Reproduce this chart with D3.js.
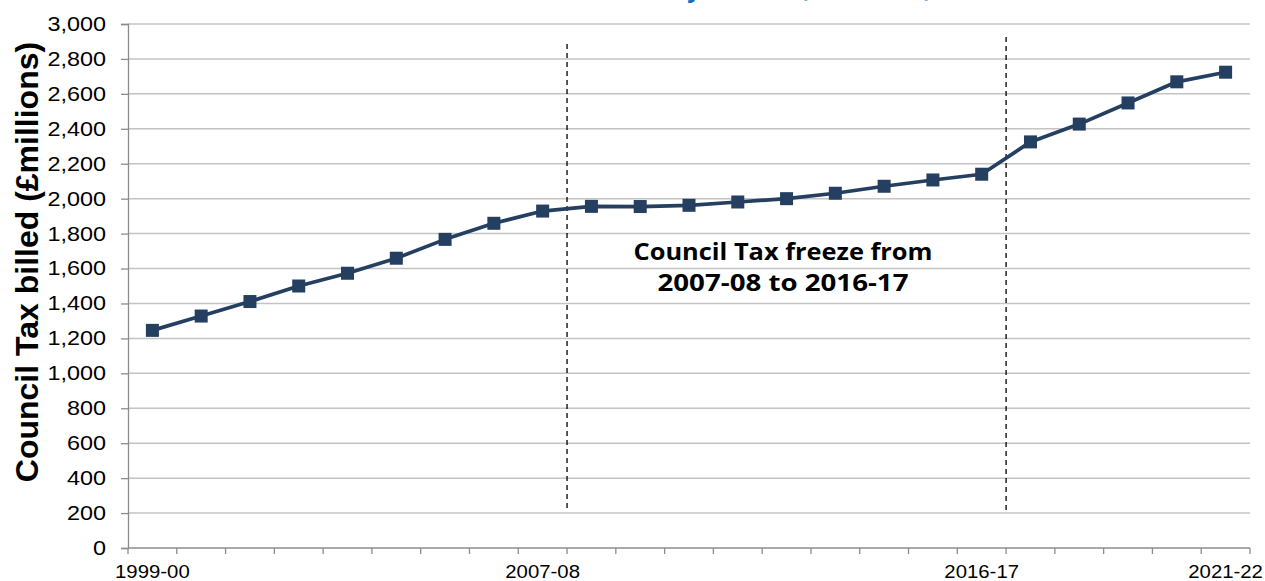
<!DOCTYPE html>
<html>
<head>
<meta charset="utf-8">
<script src="https://cdn.jsdelivr.net/npm/d3@7/dist/d3.min.js"></script>
<style>
  body { margin: 0; background: #fff; }
  svg { display: block; }
</style>
</head>
<body>
<div id="chart"></div>
<script>
/* -------------------------------------------------------------------------- */
// data
const years = ['1999-00', '2000-01', '2001-02', '2002-03', '2003-04', '2004-05',
  '2005-06', '2006-07', '2007-08', '2008-09', '2009-10', '2010-11', '2011-12',
  '2012-13', '2013-14', '2014-15', '2015-16', '2016-17', '2017-18', '2018-19',
  '2019-20', '2020-21', '2021-22'];
const billed = [1246, 1328, 1411, 1500, 1573, 1659, 1767, 1859, 1929, 1956,
  1955, 1962, 1981, 2000, 2031, 2071, 2107, 2140, 2325, 2427, 2548, 2669, 2724];
const shownLabels = ['1999-00', '2007-08', '2016-17', '2021-22'];
const yTicks = d3.range(0, 3001, 200);
const freezeStart = '2007-08';
const freezeEnd = '2016-17';
const noteLines = ['Council Tax freeze from', '2007-08 to 2016-17'];

/* -------------------------------------------------------------------------- */
const W = 1265, H = 581;
const margin = {top: 24, right: 15, bottom: 33, left: 128};
const navy = '#243f60';

const svg = d3.select('#chart').append('svg')
  .attr('width', W).attr('height', H);

const x = d3.scaleBand()
  .domain(years)
  .range([margin.left, W - margin.right]);

const y = d3.scaleLinear()
  .domain([0, 3000])
  .range([H - margin.bottom, margin.top]);

// stretch text horizontally, the reference looks a bit wider than the fonts we have
function widen(sel, k) {
  sel.each(function() {
    let w = this.getComputedTextLength();
    d3.select(this).attr('textLength', w * k).attr('lengthAdjust', 'spacingAndGlyphs');
  });
}

// title, mostly cut off at the top of the picture (as in the reference)
svg.append('text')
  .attr('x', 380).attr('y', -3)
  .attr('font-family', 'Open Sans, sans-serif')
  .attr('font-weight', 'bold')
  .attr('font-size', 24)
  .attr('fill', '#0070c0')
  .text('Council Tax billed annually in total (£ millions)');

// --------------------------------------------------
// gridlines
svg.append('g')
  .selectAll('line')
  .data(yTicks.filter(d => d > 0))
  .enter().append('line')
  .attr('x1', margin.left).attr('x2', W - margin.right)
  .attr('y1', d => y(d)).attr('y2', d => y(d))
  .attr('stroke', '#c4c4c4')
  .attr('stroke-width', 1.5);

// y axis
let gy = svg.append('g')
  .attr('transform', `translate(${margin.left},0)`)
  .call(d3.axisLeft(y).tickValues(yTicks).tickSize(7).tickPadding(15)
    .tickFormat(d3.format(',')));
gy.select('.domain').attr('stroke', '#8c8c8c').attr('stroke-width', 1.3);
gy.selectAll('.tick line').attr('stroke', '#8c8c8c').attr('stroke-width', 1.3);
gy.selectAll('.tick text')
  .attr('font-family', 'Liberation Sans, Arial, sans-serif')
  .attr('font-size', 20)
  .attr('fill', '#000')
  .call(widen, 1.17);

// x axis, ticks between categories
let xAxisY = y(0);
let gx = svg.append('g');
gx.append('line')
  .attr('x1', margin.left).attr('x2', W - margin.right)
  .attr('y1', xAxisY).attr('y2', xAxisY)
  .attr('stroke', '#8c8c8c').attr('stroke-width', 1.3);

let edges = years.map(d => x(d)).concat([x(years[years.length - 1]) + x.bandwidth()]);
gx.selectAll('line.tk')
  .data(edges)
  .enter().append('line')
  .attr('class', 'tk')
  .attr('x1', d => d).attr('x2', d => d)
  .attr('y1', xAxisY).attr('y2', xAxisY + 6)
  .attr('stroke', '#8c8c8c').attr('stroke-width', 1.3);

gx.selectAll('text')
  .data(shownLabels)
  .enter().append('text')
  .attr('x', d => x(d) + x.bandwidth() / 2)
  .attr('y', xAxisY + 30)
  .attr('text-anchor', 'middle')
  .attr('font-family', 'Liberation Sans, Arial, sans-serif')
  .attr('font-size', 18.5)
  .text(d => d)
  .call(widen, 1.1);

// y axis title
svg.append('text')
  .attr('transform', 'translate(38,262) rotate(-90)')
  .attr('text-anchor', 'middle')
  .attr('font-family', 'Liberation Sans, Arial, sans-serif')
  .attr('font-weight', 'bold')
  .attr('font-size', 32)
  .text('Council Tax billed (£millions)');

// --------------------------------------------------
// freeze period markers
let freezeLines = [
  {x: x(freezeStart) + x.bandwidth(), y1: 44, y2: 508},
  {x: x(freezeEnd) + x.bandwidth(), y1: 37, y2: 510}
];
svg.append('g')
  .selectAll('line')
  .data(freezeLines)
  .enter().append('line')
  .attr('x1', d => d.x).attr('x2', d => d.x)
  .attr('y1', d => d.y1).attr('y2', d => d.y2)
  .attr('stroke', '#000')
  .attr('stroke-width', 1.3)
  .attr('stroke-dasharray', '5,4');

let note = svg.append('g')
  .selectAll('text')
  .data(noteLines)
  .enter().append('text')
  .attr('x', 783)
  .attr('y', (d, i) => 260 + i * 31)
  .attr('text-anchor', 'middle')
  .attr('font-family', 'Open Sans, sans-serif')
  .attr('font-weight', 'bold')
  .attr('font-size', 23)
  .attr('fill', '#000')
  .text(d => d);
note.filter((d, i) => i == 0).attr('textLength', 299).attr('lengthAdjust', 'spacingAndGlyphs');
note.filter((d, i) => i == 1).attr('textLength', 251).attr('lengthAdjust', 'spacingAndGlyphs');

// --------------------------------------------------
// the series
let cx = d => x(d) + x.bandwidth() / 2;
let line = d3.line()
  .x((d, i) => cx(years[i]))
  .y(d => y(d));

svg.append('path')
  .datum(billed)
  .attr('d', line)
  .attr('fill', 'none')
  .attr('stroke', navy)
  .attr('stroke-width', 3.7)
  .attr('stroke-linejoin', 'round');

let ms = 13;
svg.append('g')
  .selectAll('rect')
  .data(billed)
  .enter().append('rect')
  .attr('x', (d, i) => cx(years[i]) - ms / 2)
  .attr('y', d => y(d) - ms / 2)
  .attr('width', ms).attr('height', ms)
  .attr('fill', navy);
</script>
</body>
</html>
